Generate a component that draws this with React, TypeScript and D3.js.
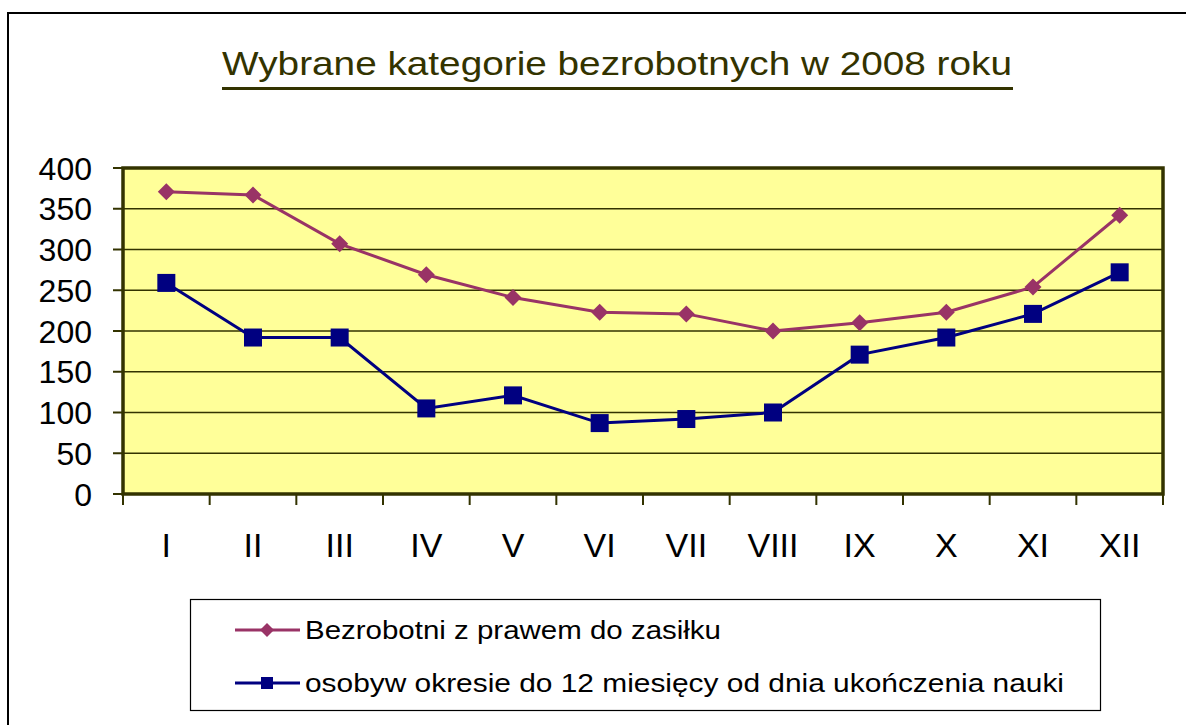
import React from 'react';
import * as d3 from 'd3';

const months = ['I', 'II', 'III', 'IV', 'V', 'VI', 'VII', 'VIII', 'IX', 'X', 'XI', 'XII'];
const zasilek = [371, 367, 307, 269, 241, 223, 221, 200, 210, 223, 254, 342];
const absolwenci = [259, 192, 192, 105, 121, 87, 92, 100, 171, 192, 221, 272];
const yTicks = [0, 50, 100, 150, 200, 250, 300, 350, 400];
const seriesNames = ['Bezrobotni z prawem do zasiłku', 'osobyw okresie do 12 miesięcy od dnia ukończenia nauki'];
const title = 'Wybrane kategorie bezrobotnych w 2008 roku';

const W = 1186, H = 725;
const plot = { left: 123, right: 1163, top: 168, bottom: 494 };
const PINK = '#993366';
const BLUE = '#000080';
const OLIVE = '#333300';
const FONT = 'Arial, "Liberation Sans", sans-serif';

function diamond(cx: number, cy: number, r: number) {
  return `M${cx},${cy - r}L${cx + r},${cy}L${cx},${cy + r}L${cx - r},${cy}Z`;
}

export default function App() {
  const x = d3.scaleBand<string>().domain(months).range([plot.left, plot.right]);
  const y = d3.scaleLinear().domain([0, 400]).range([plot.bottom, plot.top]);
  const cx = (m: string) => (x(m) as number) + x.bandwidth() / 2;
  const line = d3.line<number>().x((_, i) => cx(months[i])).y((d) => y(d));
  const bounds = [...months.map((m) => x(m) as number), plot.right];

  return (
    <svg width={W} height={H} style={{ position: 'absolute', left: 0, top: 0, background: '#fff' }}>
      <rect x={0} y={0} width={W} height={H} fill="#fff" />
      <path d={`M8,${H}V13H${W}`} fill="none" stroke="#000" strokeWidth={2} />

      <text x={222} y={75} fontFamily={FONT} fontSize={34} fill={OLIVE} textLength={790} lengthAdjust="spacingAndGlyphs">{title}</text>
      <rect x={222} y={87} width={791} height={3} fill={OLIVE} />

      <rect x={plot.left} y={plot.top} width={plot.right - plot.left} height={plot.bottom - plot.top} fill="#FFFF99" />
      {yTicks.filter((t) => t > 0 && t < 400).map((t) => (
        <line key={t} x1={plot.left} x2={plot.right} y1={y(t)} y2={y(t)} stroke={OLIVE} strokeWidth={1.6} />
      ))}
      <rect x={plot.left} y={plot.top} width={plot.right - plot.left} height={plot.bottom - plot.top} fill="none" stroke={OLIVE} strokeWidth={3.5} />

      {yTicks.map((t) => (
        <g key={t}>
          <line x1={plot.left - 10} x2={plot.left} y1={y(t)} y2={y(t)} stroke={OLIVE} strokeWidth={2} />
          <text x={92} y={y(t) + 11.5} textAnchor="end" fontFamily={FONT} fontSize={32} fill="#000">{t}</text>
        </g>
      ))}
      {bounds.map((b, i) => (
        <line key={i} x1={b} x2={b} y1={plot.bottom} y2={plot.bottom + 11} stroke={OLIVE} strokeWidth={2} />
      ))}
      {months.map((m) => (
        <text key={m} x={cx(m)} y={557} textAnchor="middle" fontFamily={FONT} fontSize={34} fill="#000">{m}</text>
      ))}

      <path d={line(zasilek) as string} fill="none" stroke={PINK} strokeWidth={3} />
      {zasilek.map((v, i) => (
        <path key={i} d={diamond(cx(months[i]), y(v), 8.5)} fill={PINK} />
      ))}
      <path d={line(absolwenci) as string} fill="none" stroke={BLUE} strokeWidth={3} />
      {absolwenci.map((v, i) => (
        <rect key={i} x={cx(months[i]) - 9} y={y(v) - 9} width={18} height={18} fill={BLUE} />
      ))}

      <rect x={190.5} y={599.5} width={910} height={111} fill="#fff" stroke="#000" strokeWidth={1.2} />
      <line x1={235} x2={300} y1={630} y2={630} stroke={PINK} strokeWidth={3} />
      <path d={diamond(267, 630, 7)} fill={PINK} />
      <text x={305} y={639} fontFamily={FONT} fontSize={25} fill="#000" textLength={416} lengthAdjust="spacingAndGlyphs">{seriesNames[0]}</text>
      <line x1={235} x2={300} y1={683} y2={683} stroke={BLUE} strokeWidth={3} />
      <rect x={261} y={677} width={12} height={12} fill={BLUE} />
      <text x={305} y={692} fontFamily={FONT} fontSize={25} fill="#000" textLength={759} lengthAdjust="spacingAndGlyphs">{seriesNames[1]}</text>
    </svg>
  );
}
